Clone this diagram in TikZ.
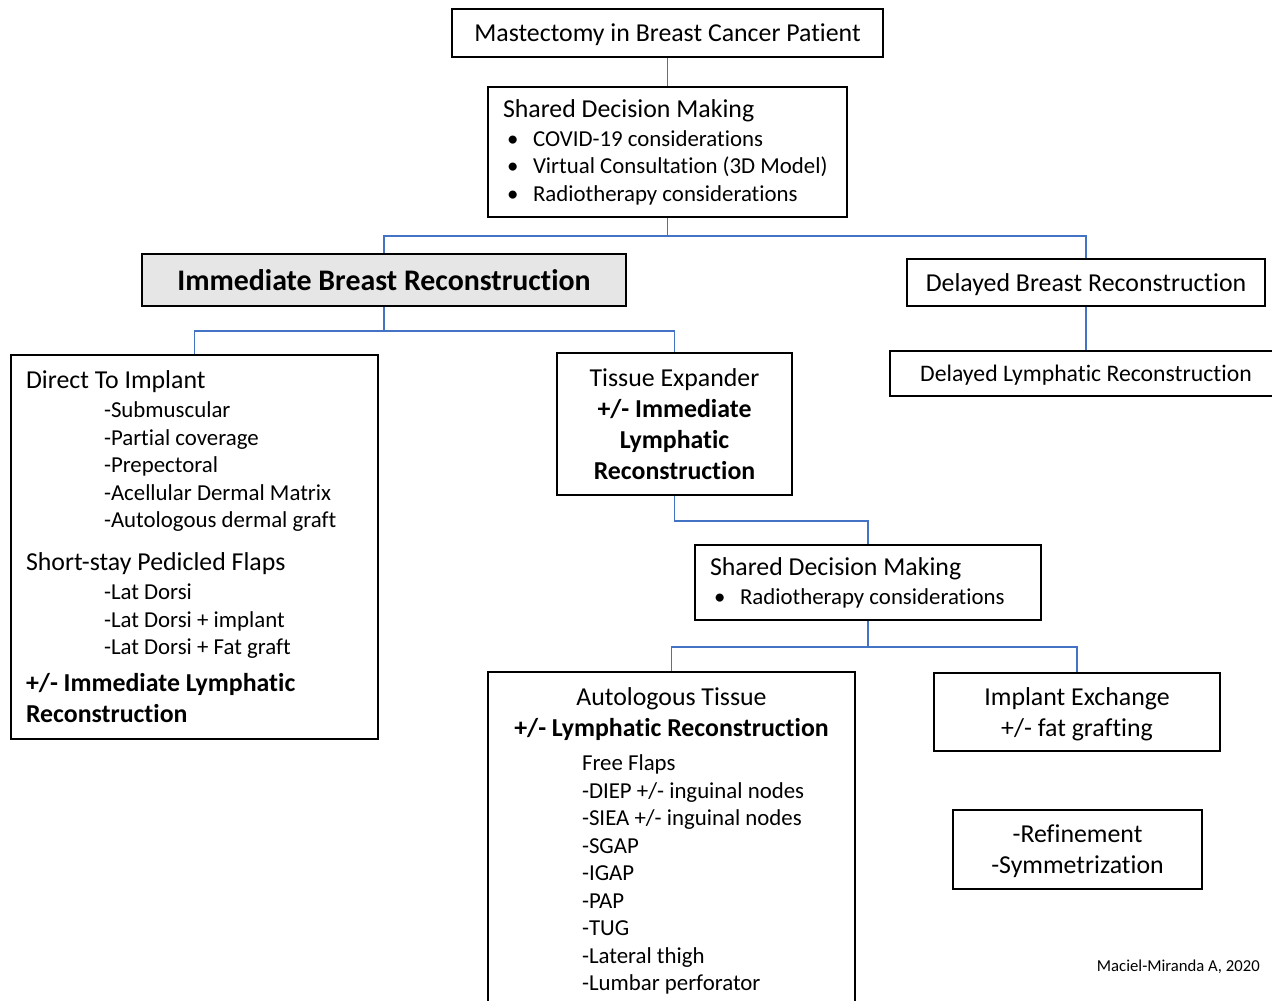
\documentclass[tikz,border=0pt]{standalone}
\usepackage{fontspec}
\setmainfont{Carlito}[Ligatures={TeX,NoCommon}]
\usetikzlibrary{positioning}
\definecolor{linkblue}{HTML}{4472C4}
\definecolor{boxgray}{HTML}{E7E6E6}
\newcommand{\ftitle}{\fontsize{14.7}{17.6}\selectfont}
\newcommand{\fitem}{\fontsize{13}{15.65}\selectfont}
\newcommand{\fbig}{\fontsize{17}{20}\selectfont}
\newcommand{\subind}{\hspace*{1.56cm}}
\newcommand{\flapind}{\hspace*{1.58cm}}
\newcommand{\bul}{\hspace*{0.08cm}\makebox[0.52cm][l]{\textbullet}}

\begin{document}
\begin{tikzpicture}[x=0.02cm,y=-0.02cm,
    frame/.style={draw,line width=1pt,inner sep=0pt},
    box/.style={frame,text depth=0pt},
    lbox/.style={frame,inner xsep=0.3cm,align=flush left},
    link/.style={draw=linkblue,line width=0.8pt}]
    \useasboundingbox (0,0) rectangle (1272,1001);
    \clip (0,0) rectangle (1272,1001);
    \node[box,minimum width=8.62cm,minimum height=0.96cm,font=\ftitle](mast) at (667.5,33) {Mastectomy in Breast Cancer Patient};
    \node[lbox,text width=6.58cm,minimum height=2.6cm,font=\fitem](sdm1) at (667.5,152) {{\ftitle Shared Decision Making}\\[0.85pt]
        \bul COVID-19 considerations\\
        \bul Virtual Consultation (3D Model)\\
        \bul Radiotherapy considerations};
    \node[box,line width=1.2pt,fill=boxgray,minimum width=9.68cm,minimum height=1.04cm,font=\fbig\bfseries](ibr) at (384,280) {Immediate Breast Reconstruction};
    \node[box,minimum width=7.16cm,minimum height=0.94cm,font=\ftitle](dbr) at (1086,282.5) {Delayed Breast Reconstruction};
    \node[box,minimum width=7.84cm,minimum height=0.9cm,font=\fontsize{13.5}{16}\selectfont](dlr) at (1086,373.5) {Delayed Lymphatic Reconstruction};
    \node[lbox,text width=6.74cm,minimum height=7.68cm,font=\fitem](dti) at (194.5,547) {{\ftitle Direct To Implant}\\[0.85pt]
        \subind-Submuscular\\
        \subind-Partial coverage\\
        \subind-Prepectoral\\
        \subind-Acellular Dermal Matrix\\
        \subind-Autologous dermal graft\\[8.8pt]
        {\ftitle Short-stay Pedicled Flaps}\\[0.85pt]
        \subind-Lat Dorsi\\
        \subind-Lat Dorsi + implant\\
        \subind-Lat Dorsi + Fat graft\\[5.4pt]
        {\ftitle\bfseries +/- Immediate Lymphatic}\\[2pt]
        {\ftitle\bfseries Reconstruction}};
    \node[box,align=center,minimum width=4.7cm,minimum height=2.84cm,font=\ftitle](te) at (674.5,424) {Tissue Expander\\ \textbf{+/- Immediate}\\ \textbf{Lymphatic}\\ \textbf{Reconstruction}};
    \node[lbox,text width=6.32cm,minimum height=1.5cm,font=\fitem](sdm2) at (868,582.5) {{\ftitle Shared Decision Making}\\[0.85pt]
        \bul Radiotherapy considerations};
    \node[lbox,text width=6.74cm,minimum height=6.76cm,font=\fitem](autol) at (671.5,841) {\makebox[\linewidth]{\ftitle Autologous Tissue}\\[1.95pt]
        \makebox[\linewidth]{\ftitle\bfseries +/- Lymphatic Reconstruction}\\[3.7pt]
        \flapind Free Flaps\\
        \flapind-DIEP +/- inguinal nodes\\
        \flapind-SIEA +/- inguinal nodes\\
        \flapind-SGAP\\
        \flapind-IGAP\\
        \flapind-PAP\\
        \flapind-TUG\\
        \flapind-Lateral thigh\\
        \flapind-Lumbar perforator};
    \node[box,align=center,minimum width=5.72cm,minimum height=1.56cm,font=\ftitle](ie) at (1077,712) {Implant Exchange\\ +/- fat grafting};
    \node[box,align=center,minimum width=4.98cm,minimum height=1.58cm,font=\ftitle](refine) at (1077.5,849.5) {-Refinement\\ -Symmetrization};
    \node[anchor=east,font=\fontsize{9.5}{11}\selectfont](credit) at (1266,967) {Maciel-Miranda A, 2020};
    \draw[link] (mast.south) -- (sdm1.north);
    \draw[link] (sdm1.south) -- ++(0,18) -| (ibr.north);
    \draw[link] (sdm1.south) -- ++(0,18) -| (dbr.north);
    \draw[link] (dbr.south) -- (dlr.north);
    \draw[link] (ibr.south) -- ++(0,24) -| (dti.north);
    \draw[link] (ibr.south) -- ++(0,24) -| (te.north);
    \draw[link] (te.south) -- ++(0,25) -| (sdm2.north);
    \draw[link] (sdm2.south) -- ++(0,26) -| (autol.north);
    \draw[link] (sdm2.south) -- ++(0,26) -| (ie.north);
\end{tikzpicture}
\end{document}
